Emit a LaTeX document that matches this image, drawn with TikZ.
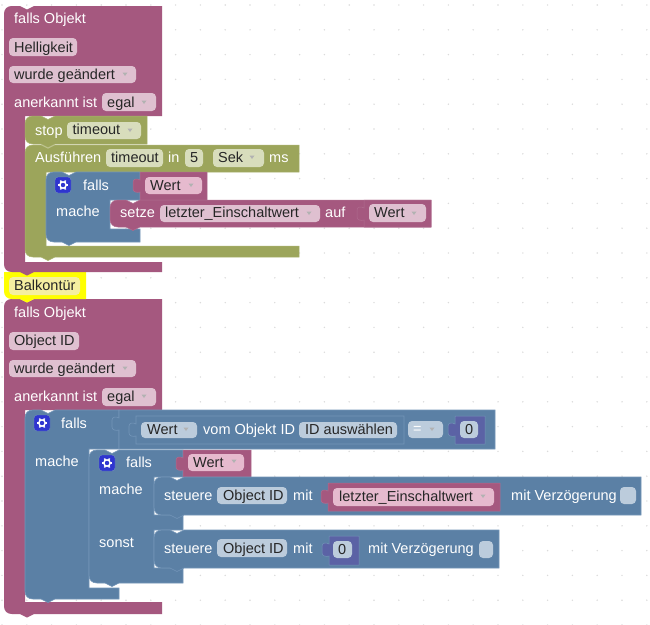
\documentclass[tikz,border=0pt]{standalone}
\usepackage{xcolor}
\usepackage{fontspec}
\setmainfont{Liberation Sans}
\definecolor{hatpurple}{HTML}{A5587F}
\definecolor{hatedge}{HTML}{B06C8F}
\definecolor{hatfield}{HTML}{DFC0D0}
\definecolor{pinkfield}{HTML}{E6BACE}
\definecolor{olive}{HTML}{9CA55B}
\definecolor{oliveedge}{HTML}{ABB36F}
\definecolor{olivefield}{HTML}{D8DDBC}
\definecolor{logicblue}{HTML}{5B80A5}
\definecolor{blueedge}{HTML}{7395B8}
\definecolor{bluefield}{HTML}{BCCCDC}
\definecolor{mathblue}{HTML}{5B62A5}
\definecolor{commentyellow}{HTML}{FFFF00}
\definecolor{commentfield}{HTML}{F5EFA0}
\definecolor{iconblue}{HTML}{2F35CF}
\tikzset{
  hatblock/.style={fill=hatpurple},
  valblock/.style={fill=hatpurple, draw=hatedge, line width=.5pt},
  oliveblock/.style={fill=olive, draw=oliveedge, line width=.5pt},
  blueblock/.style={fill=logicblue, draw=blueedge, line width=.6pt},
  mathblock/.style={fill=mathblue, draw=blueedge, line width=.5pt},
  hfield/.style={fill=hatfield, rounded corners=4pt},
  kfield/.style={fill=pinkfield, rounded corners=4pt},
  ofield/.style={fill=olivefield, rounded corners=4pt},
  bfield/.style={fill=bluefield, rounded corners=4pt},
  lbl/.style={anchor=base west, inner sep=0pt, text=white, font=\fontsize{14.5}{16}\selectfont},
  fld/.style={lbl, text=black!85},
  griddot/.style={fill=black!14},
  ddarrow/.style={fill=black!30},
}
% top edge with notch, bottom edge with tab, value plug on the left side
\newcommand{\topedge}[2]{(#1,#2+8) .. controls (#1,#2+3) and (#1+3,#2) .. (#1+8,#2) -- (#1+16,#2) .. controls (#1+19,#2) and (#1+20,#2+3.5) .. (#1+23,#2+3.5) .. controls (#1+26,#2+3.5) and (#1+27,#2) .. (#1+30,#2)}
\newcommand{\tabedge}[2]{-- (#1+30,#2) .. controls (#1+27,#2) and (#1+26,#2+3.5) .. (#1+23,#2+3.5) .. controls (#1+20,#2+3.5) and (#1+19,#2) .. (#1+16,#2) -- (#1+8,#2) .. controls (#1+3,#2) and (#1,#2-3) .. (#1,#2-8)}
\newcommand{\lefttab}[2]{-- (#1,#2+20) .. controls (#1-3,#2+21) and (#1-7,#2+20) .. (#1-7,#2+17) -- (#1-7,#2+10) .. controls (#1-7,#2+7) and (#1-3,#2+6) .. (#1,#2+8) -- (#1,#2)}
\newcommand{\dropdown}[2]{\fill[ddarrow] (#1-2.5,#2-1.5) -- (#1+2.5,#2-1.5) -- (#1,#2+2) -- cycle;}
\newcommand{\gearicon}[2]{
  \fill[iconblue, draw=blueedge, rounded corners=3pt] (#1,#2) rectangle (#1+16,#2+16);
  \foreach \a in {0,60,...,300} {
    \draw[white, line width=1.5pt] ({#1+8+2.5*cos(\a)},{#2+8+2.5*sin(\a)}) -- ({#1+8+5.2*cos(\a)},{#2+8+5.2*sin(\a)});
  }
  \draw[white, line width=1.4pt] (#1+8,#2+8) circle (3.2pt);
}

\begin{document}
\begin{tikzpicture}[x=1pt,y=-1pt]
\useasboundingbox (0,0) rectangle (650,624);
\fill[white] (0,0) rectangle (650,624);
% Workspace dots
\foreach \i in {0,...,26} {
  \foreach \j in {0,...,25} {
    \fill[griddot] ({2+24.8*\i},{5+24.8*\j}) circle (.8pt);
  }
}
% Second hat block
\fill[hatblock] \topedge{4}{299} -- (162,299) -- (162,410) -- (25,410) -- (25,602) -- (162,602) -- (162,614) \tabedge{4}{614} -- cycle;
% Comment block
\fill[commentyellow] (4,272) -- (86,272) -- (86,299) \tabedge{4}{299} -- (4,272) -- cycle;
\fill[commentfield, rounded corners=4pt] (9,277) rectangle (80,295);
% First hat block
\fill[hatblock] \topedge{4}{6} -- (162,6) -- (162,116) -- (25,116) -- (25,262) -- (162,262) -- (162,272) \tabedge{4}{272} -- cycle;
% Timeout blocks
\draw[oliveblock] \topedge{25}{145} -- (299,145) -- (299,172) -- (46,172) -- (46,246) -- (299,246) -- (299,257) \tabedge{25}{257} -- cycle;
\draw[oliveblock] \topedge{25}{116} -- (147,116) -- (147,144) \tabedge{25}{144} -- cycle;
% First if block
\draw[blueblock] \topedge{46}{172} -- (140,172) -- (140,200) -- (110,200) -- (110,229) -- (140,229) -- (140,242) \tabedge{46}{242} -- cycle;
\draw[valblock] (140,200) \lefttab{140}{172} -- (207,172) -- (207,200) -- cycle;
\draw[valblock] \topedge{110}{200} -- (431,200) -- (431,227) \tabedge{110}{227} -- cycle;
\draw[valblock] (364,227) \lefttab{364}{200} -- (431,200) -- (431,227) -- cycle;
% Outer if block
\draw[blueblock] \topedge{25}{410} -- (119,410) -- (119,449) -- (89,449) -- (89,588) -- (119,588) -- (119,599) \tabedge{25}{599} -- cycle;
\draw[blueblock] (119,449) \lefttab{119}{410} -- (495,410) -- (495,449) -- cycle;
\draw[blueblock] (136,444) \lefttab{136}{416} -- (404,416) -- (404,444) -- cycle;
\draw[mathblock] (455,444) \lefttab{455}{416} -- (485,416) -- (485,444) -- cycle;
% Inner if block
\draw[blueblock] \topedge{89}{450} -- (183,450) -- (183,477) -- (154,477) -- (154,515) -- (183,515) -- (183,530) -- (154,530) -- (154,568) -- (183,568) -- (183,583) \tabedge{89}{583} -- cycle;
\draw[valblock] (183,477) \lefttab{183}{450} -- (251,450) -- (251,477) -- cycle;
\draw[blueblock] \topedge{154}{477} -- (641,477) -- (641,515) \tabedge{154}{515} -- cycle;
\draw[blueblock] \topedge{154}{530} -- (499,530) -- (499,568) \tabedge{154}{568} -- cycle;
\draw[valblock] (328,511) \lefttab{328}{483} -- (500,483) -- (500,511) -- cycle;
\draw[mathblock] (329,565) \lefttab{329}{536} -- (359,536) -- (359,565) -- cycle;
% Fields, first group
\fill[hfield] (9,38) rectangle (77,56);
\fill[hfield] (9,66) rectangle (136,83);
\fill[hfield] (102,93) rectangle (156,111);
\fill[ofield] (67,122) rectangle (141,139);
\fill[ofield] (106,149) rectangle (163,167);
\fill[ofield] (185,149) rectangle (203,167);
\fill[ofield] (213,149) rectangle (264,167);
\fill[kfield] (145,177) rectangle (202,194);
\fill[hfield] (160,205) rectangle (320,222);
\fill[hfield] (369,204) rectangle (426,222);
% Fields, second group
\fill[hfield] (9,332) rectangle (79,350);
\fill[hfield] (9,360) rectangle (136,377);
\fill[hfield] (102,388) rectangle (156,406);
\fill[bfield] (141,422) rectangle (197,438);
\fill[bfield] (299,422) rectangle (397,438);
\fill[bfield] (408,421) rectangle (443,438);
\fill[bfield] (460,421) rectangle (478,438);
\fill[kfield] (188,454) rectangle (244,471);
\fill[bfield] (217,487) rectangle (287,504);
\fill[kfield] (333,488) rectangle (494,506);
\fill[bfield] (620,487) rectangle (636,504);
\fill[bfield] (217,539) rectangle (287,557);
\fill[bfield] (333,541) rectangle (352,558);
\fill[bfield] (479,541) rectangle (493,558);
% Dropdown arrows
\dropdown{125}{74}
\dropdown{144}{102}
\dropdown{130}{130}
\dropdown{252}{157}
\dropdown{191}{185}
\dropdown{309}{213}
\dropdown{414}{213}
\dropdown{125}{368}
\dropdown{144}{396}
\dropdown{186}{429}
\dropdown{432}{429}
\dropdown{234}{461}
\dropdown{483}{496}
% Gear icons
\gearicon{55}{177}
\gearicon{34}{415}
\gearicon{99}{455}
% Labels, first group
\node[lbl] (objekt1) at (14,23) {falls Objekt};
\node[fld] (hell) at (14,52) {Helligkeit};
\node[fld] (geaendert1) at (14,79) {wurde geändert};
\node[lbl] (anerkannt1) at (14,107) {anerkannt ist};
\node[fld] (egal1) at (107,107) {egal};
\node[lbl] (stop) at (35,135) {stop};
\node[fld] (timeout1) at (72.5,134) {timeout};
\node[lbl] (ausfuehren) at (35,162) {Ausführen};
\node[fld] (timeout2) at (111,162) {timeout};
\node[lbl] (in) at (168,162) {in};
\node[fld] (fuenf) at (190,162) {5};
\node[fld] (sek) at (218,162) {Sek};
\node[lbl] (ms) at (269,162) {ms};
\node[lbl] (falls1) at (83,190) {falls};
\node[fld] (wert1) at (150,190) {Wert};
\node[lbl] (mache1) at (56,216) {mache};
\node[lbl] (setze) at (120,217) {setze};
\node[fld] (letzter1) at (165,217) {letzter\_Einschaltwert};
\node[lbl] (auf) at (325,217) {auf};
\node[fld] (wert2) at (374,217) {Wert};
% Comment
\node[fld] (balken) at (14,290) {Balkontür};
% Labels, second group
\node[lbl] (objekt2) at (14,317) {falls Objekt};
\node[fld] (objid1) at (14,345) {Object ID};
\node[fld] (geaendert2) at (14,373) {wurde geändert};
\node[lbl] (anerkannt2) at (14,401) {anerkannt ist};
\node[fld] (egal2) at (107,401) {egal};
\node[lbl] (falls2) at (61,428) {falls};
\node[fld] (wert3) at (147,434) {Wert};
\node[lbl] (vom) at (203,434) {vom Objekt ID};
\node[fld] (idwahl) at (305,434) {ID auswählen};
\node[lbl] (gleich) at (413,433) {=};
\node[fld] (null1) at (465,434) {0};
\node[lbl] (mache2) at (35,466) {mache};
\node[lbl] (falls3) at (126,467) {falls};
\node[fld] (wert4) at (193,467) {Wert};
\node[lbl] (mache3) at (99,494) {mache};
\node[lbl] (sonst) at (99,547) {sonst};
\node[lbl] (steuere1) at (164,500) {steuere};
\node[fld] (objid2) at (223,500) {Object ID};
\node[lbl] (mit1) at (293,500) {mit};
\node[fld] (letzter2) at (339,501) {letzter\_Einschaltwert};
\node[lbl] (verz1) at (511,500) {mit Verzögerung};
\node[lbl] (steuere2) at (164,553) {steuere};
\node[fld] (objid3) at (223,553) {Object ID};
\node[lbl] (mit2) at (293,553) {mit};
\node[fld] (null2) at (338,554) {0};
\node[lbl] (verz2) at (368,553) {mit Verzögerung};
\end{tikzpicture}
\end{document}
